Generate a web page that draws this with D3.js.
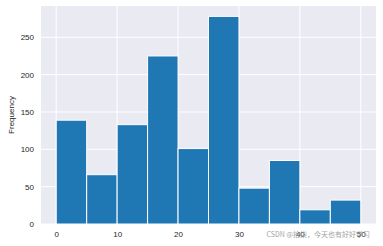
<!DOCTYPE html>
<html><head><meta charset="utf-8">
<script src="https://cdn.jsdelivr.net/npm/d3@7"></script>
<style>body{margin:0;background:#fff;} svg{display:block;font-family:"Liberation Sans",Arial,sans-serif;}</style>
</head><body>
<svg id="c" width="383" height="246"></svg>
<script>
const binEdges = [0,5,10,15,20,25,30,35,40,45,50];
const counts = [139,66,133,225,101,278,48,85,19,32];
const xTicks = [0,10,20,30,40,50];
const yTicks = [0,50,100,150,200,250];
const yLabel = "Frequency";
const watermark = "CSDN @拾柒，今天也有好好学习";

const svg = d3.select("#c");
const L=41, R=376, T=6, B=224;
const x = d3.scaleLinear().domain([-2.5,52.5]).range([L,R]);
const y = d3.scaleLinear().domain([0,d3.max(counts)*1.05]).range([B,T]);

svg.append("rect").attr("x",L).attr("y",T).attr("width",R-L).attr("height",B-T).attr("fill","#eaeaf2");
const g = svg.append("g");
g.selectAll(".gx").data(xTicks).join("line").attr("x1",d=>x(d)).attr("x2",d=>x(d)).attr("y1",T).attr("y2",B).attr("stroke","#fff").attr("stroke-width",1);
g.selectAll(".gy").data(yTicks).join("line").attr("y1",d=>y(d)).attr("y2",d=>y(d)).attr("x1",L).attr("x2",R).attr("stroke","#fff").attr("stroke-width",1);

const bins = counts.map((c,i)=>({x0:binEdges[i],x1:binEdges[i+1],c}));
svg.selectAll(".bar").data(bins).join("rect")
  .attr("x",d=>x(d.x0)).attr("width",d=>x(d.x1)-x(d.x0))
  .attr("y",d=>y(d.c)).attr("height",d=>y(0)-y(d.c))
  .attr("fill","#1f77b4").attr("stroke","#fff").attr("stroke-width",1);

const xAxis = d3.axisBottom(x).tickValues(xTicks).tickSize(0).tickPadding(7);
const ax = svg.append("g").attr("transform",`translate(0,${B})`).call(xAxis);
const yAxis = d3.axisLeft(y).tickValues(yTicks).tickSize(0).tickPadding(7);
const ay = svg.append("g").attr("transform",`translate(${L},0)`).call(yAxis);
[ax,ay].forEach(a=>{a.select(".domain").remove();a.selectAll("text").attr("fill","#262626").attr("font-size","8px").attr("font-family","Liberation Sans, Arial, sans-serif");});

svg.append("text").attr("transform",`translate(12,${(T+B)/2}) rotate(-90)`).attr("text-anchor","middle")
  .attr("dominant-baseline","middle").attr("font-size","8px").attr("fill","#262626").text(yLabel);

svg.append("text").attr("x",370).attr("y",237).attr("text-anchor","end").attr("font-size","7px")
  .attr("font-family","Noto Sans CJK SC, sans-serif").attr("fill","#999").attr("opacity",0.9).text(watermark);
</script>
</body></html>
